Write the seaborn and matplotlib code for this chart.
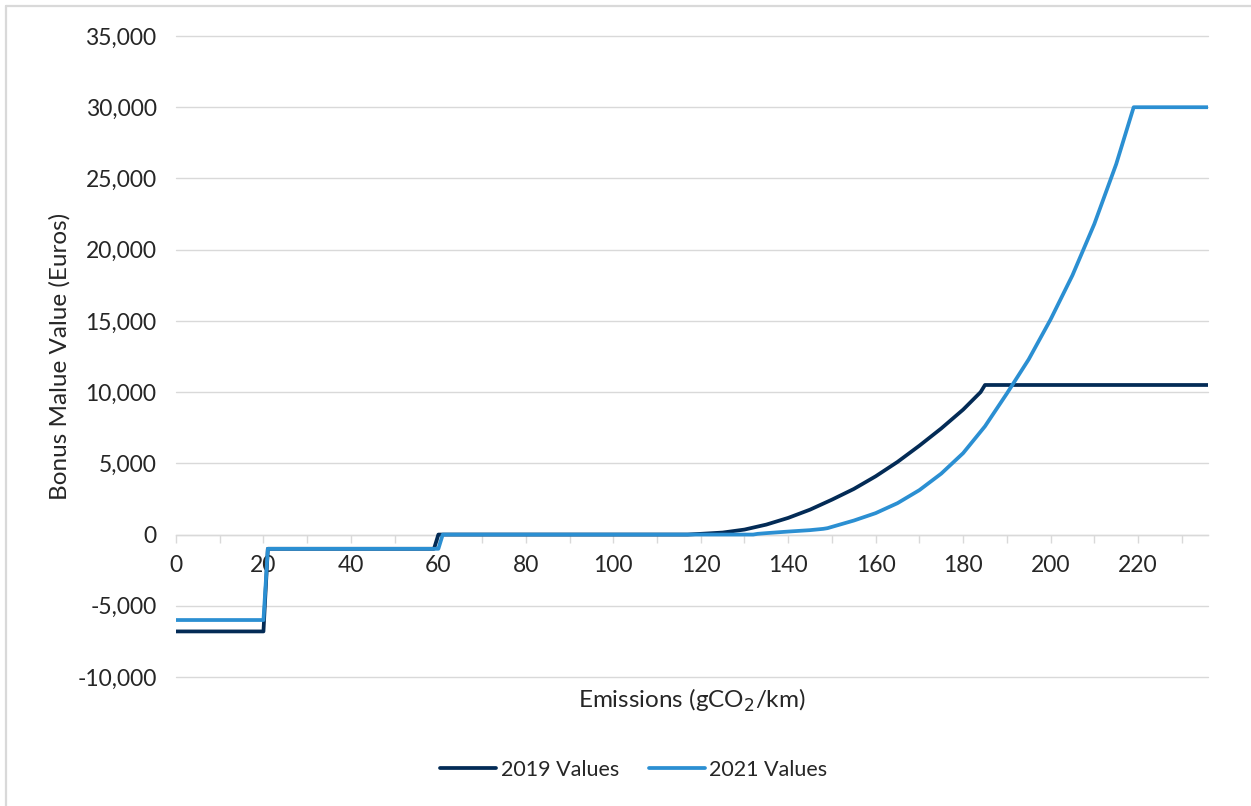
import matplotlib
matplotlib.use("Agg")
import matplotlib.pyplot as plt
import matplotlib.ticker as mticker
from matplotlib.lines import Line2D
import numpy as np
import pandas as pd
import seaborn as sns

# French bonus-malus schedule by CO2 emissions (g/km)
grams_2019 = [0, 20, 21, 59, 60, 117, 120, 125, 130, 135, 140, 145, 150, 155,
              160, 165, 170, 175, 180, 184, 185, 236]
bonus_malus_2019 = [-6800, -6800, -1000, -1000, 0, 0, 50, 140, 350, 700, 1170,
                    1750, 2450, 3200, 4090, 5100, 6240, 7450, 8770, 10000,
                    10500, 10500]

grams_2021 = [0, 20, 21, 60, 61, 132, 133, 135, 140, 145, 148, 149, 150, 155,
              160, 165, 170, 175, 180, 185, 190, 195, 200, 205, 210, 215, 219,
              236]
bonus_malus_2021 = [-6000, -6000, -1000, -1000, 0, 0, 50, 100, 210, 310, 400,
                    450, 540, 983, 1504, 2205, 3119, 4279, 5715, 7600, 9900,
                    12300, 15100, 18200, 21800, 26000, 30000, 30000]

series_names = ["2019 Values", "2021 Values"]
series_colors = ["#032b56", "#2b8fd2"]

x_tick_labels = [str(v) for v in range(0, 240, 20)]
y_ticks = list(range(-10000, 35001, 5000))

df = pd.concat([
    pd.DataFrame({"Emissions": grams_2019, "Value": bonus_malus_2019,
                  "Series": series_names[0]}),
    pd.DataFrame({"Emissions": grams_2021, "Value": bonus_malus_2021,
                  "Series": series_names[1]}),
], ignore_index=True)

sns.set_theme(style="white")
plt.rcParams["font.family"] = ["Lato", "DejaVu Sans"]

W, H, DPI = 1251, 806, 100
fig = plt.figure(figsize=(W / DPI, H / DPI), dpi=DPI)
ax = fig.add_axes([176 / W, 1 - 678 / H, (1208 - 176) / W, (678 - 36) / H])

grid_col = "#d9d9d9"
text_col = "#262626"

sns.lineplot(data=df, x="Emissions", y="Value", hue="Series",
             palette=dict(zip(series_names, series_colors)),
             estimator=None, sort=False, linewidth=2.7, ax=ax, legend=False,
             zorder=3)
for ln in ax.lines:
    ln.set_solid_capstyle("round")
    ln.set_solid_joinstyle("round")

ax.set_xlim(0, 236)
ax.set_ylim(-10070, 35000)

# horizontal gridlines
ax.set_yticks(y_ticks)
ax.yaxis.set_major_formatter(mticker.FuncFormatter(lambda v, p: f"{int(v):,}"))
ax.grid(axis="y", color=grid_col, linewidth=1.0)
ax.grid(axis="x", visible=False)
ax.set_axisbelow(True)
for gl in ax.yaxis.get_gridlines():
    gl.set_clip_on(False)

# category-style x axis crossing at zero
for s in ["top", "right", "left"]:
    ax.spines[s].set_visible(False)
ax.spines["bottom"].set_position(("data", 0))
ax.spines["bottom"].set_color(grid_col)
ax.spines["bottom"].set_linewidth(1.0)
ax.set_xticks(list(range(0, 240, 20)))
ax.set_xticklabels(x_tick_labels)
ax.set_xticks(list(range(10, 240, 20)), minor=True)
ax.tick_params(axis="x", which="both", direction="out", length=6, width=1.0,
               color=grid_col, labelsize=16.5, labelcolor=text_col, pad=9,
               bottom=True)
ax.tick_params(axis="y", length=0, labelsize=16.5, labelcolor=text_col, pad=14)

ax.set_xlabel("")
ax.set_ylabel("")
fig.text(692 / W, 1 - 700 / H, "Emissions (gCO$_2$/km)", ha="center",
         va="center", fontsize=17.5, color=text_col)
fig.text(60 / W, 1 - 356 / H, "Bonus Malue Value (Euros)", ha="center",
         va="center", rotation=90, fontsize=17.5, color=text_col)

handles = [Line2D([0], [0], color=c, linewidth=2.7, solid_capstyle="round")
           for c in series_colors]
fig.legend(handles, series_names, loc="center", bbox_to_anchor=(634 / W, 1 - 770 / H),
           ncol=2, frameon=False, fontsize=15.5, handlelength=2.6,
           handletextpad=0.2, columnspacing=1.4, labelcolor=text_col)

# chart area border
fig.add_artist(Line2D([5.5 / W, 5.5 / W], [0, 1 - 5.5 / H], color=grid_col,
                      linewidth=1.6, transform=fig.transFigure))
fig.add_artist(Line2D([5.5 / W, 1], [1 - 5.5 / H, 1 - 5.5 / H], color=grid_col,
                      linewidth=1.6, transform=fig.transFigure))

fig.savefig("out.png", dpi=DPI, facecolor="white")
